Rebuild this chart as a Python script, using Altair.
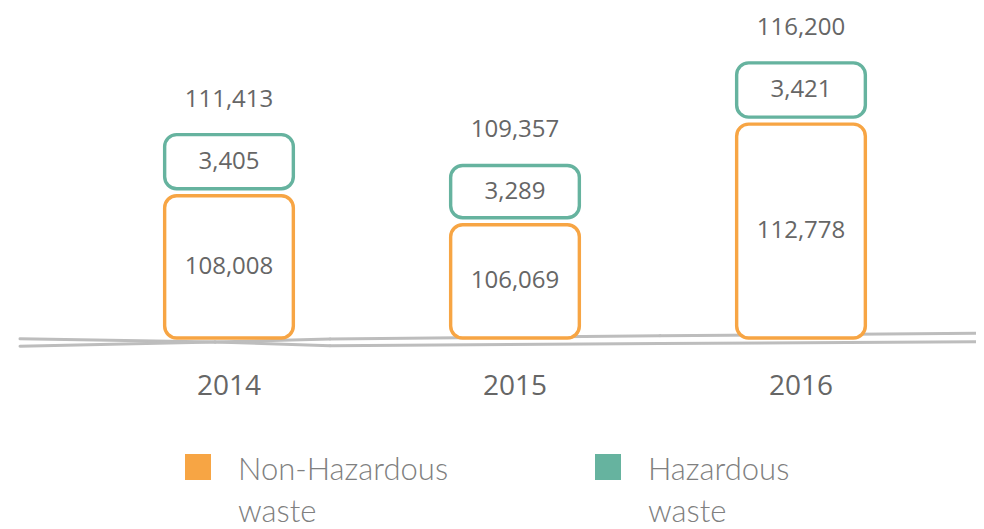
import altair as alt
import pandas as pd

# ---- data ----
years = ["2014", "2015", "2016"]
non_hazardous = [108008, 106069, 112778]
hazardous = [3405, 3289, 3421]
totals = [111413, 109357, 116200]
categories = ["Non-Hazardous waste", "Hazardous waste"]
colors = ["#F7A544", "#66B39F"]

# ---- layout constants (scale domain of the infographic) ----
BASE = 98521
TOP = 120254
W, H = 858, 326

rows = []
for y, nh, hz in zip(years, non_hazardous, hazardous):
    rows.append({"year": y, "category": categories[0], "value": nh,
                 "lo": BASE, "hi": nh, "mid": (BASE + nh) / 2})
    rows.append({"year": y, "category": categories[1], "value": hz,
                 "lo": nh, "hi": nh + hz, "mid": (nh + nh + hz) / 2})
df = pd.DataFrame(rows)
tot = pd.DataFrame({"year": years, "total": totals})

FONT = "Open Sans"
TXT = "#666666"

xenc = alt.X("year:N", sort=years,
             scale=alt.Scale(paddingInner=0.55, paddingOuter=0.275),
             axis=alt.Axis(title=None, domain=False, ticks=False, labelAngle=0,
                           labelFontSize=28, labelColor=TXT, labelFont=FONT,
                           labelPadding=34, grid=False))
yscale = alt.Scale(domain=[BASE, TOP], zero=False, nice=False)
cscale = alt.Scale(domain=categories, range=colors)

# decorative hand-drawn baseline (two crossing grey strokes)
def stroke_seg(x1, y1, x2, y2):
    return alt.Chart(pd.DataFrame([{"k": 1}])).mark_rule(
        color="#BDBDBD", strokeWidth=3, strokeCap="round"
    ).encode(x=alt.value(x1), y=alt.value(y1), x2=alt.value(x2), y2=alt.value(y2))

line_a = [(-66, 326.7), (129, 330), (244, 333.7), (574, 331.5), (898, 329.7)]
line_b = [(-66, 334.3), (129, 330), (244, 327), (574, 323.7), (898, 321.3)]
deco = []
for pts in (line_a, line_b):
    for (x1, y1), (x2, y2) in zip(pts[:-1], pts[1:]):
        deco.append(stroke_seg(x1, y1, x2, y2))

base = alt.Chart(df)

nh_bars = base.transform_filter(alt.datum.category == categories[0]).mark_bar(
    fill="white", strokeWidth=3.4, cornerRadius=12
).encode(
    x=xenc,
    y=alt.Y("hi:Q", scale=yscale, axis=None),
    y2="lo:Q",
    stroke=alt.Stroke("category:N", scale=cscale, legend=None),
)

hz_bars = base.transform_filter(alt.datum.category == categories[1]).mark_bar(
    fill="white", strokeWidth=3.4, cornerRadius=12, yOffset=-10, y2Offset=-7
).encode(
    x=xenc,
    y=alt.Y("hi:Q", scale=yscale, axis=None),
    y2="lo:Q",
    stroke=alt.Stroke("category:N", scale=cscale, legend=None),
)

nh_text = base.transform_filter(alt.datum.category == categories[0]).mark_text(
    font=FONT, fontSize=24, color=TXT, baseline="middle"
).encode(x=xenc, y=alt.Y("mid:Q", scale=yscale, axis=None),
         text=alt.Text("value:Q", format=","))

hz_text = base.transform_filter(alt.datum.category == categories[1]).mark_text(
    font=FONT, fontSize=24, color=TXT, baseline="middle", dy=-8.5
).encode(x=xenc, y=alt.Y("mid:Q", scale=yscale, axis=None),
         text=alt.Text("value:Q", format=","))

tot_text = alt.Chart(tot).mark_text(
    font=FONT, fontSize=24, color=TXT, baseline="middle", dy=-45
).encode(x=xenc, y=alt.Y("total:Q", scale=yscale, axis=None),
         text=alt.Text("total:Q", format=","))

# legend (two swatches with two-line labels)
legend_layers = []
for i, (cat, col) in enumerate(zip(categories, colors)):
    sx = [112, 522][i]
    tx = [152, 562][i]
    ldf = pd.DataFrame([{"label": cat.replace(" waste", "\nwaste")}])
    legend_layers.append(alt.Chart(ldf).mark_square(
        size=676, color=col, opacity=1
    ).encode(x=alt.value(sx), y=alt.value(455)))
    legend_layers.append(alt.Chart(ldf).mark_text(
        align="left", baseline="alphabetic", font="Lato", fontWeight=300,
        fontSize=31, color="#808080", lineBreak="\n", lineHeight=42.3
    ).encode(x=alt.value(tx), y=alt.value(468), text="label:N"))

chart = alt.layer(
    *deco, nh_bars, hz_bars, nh_text, hz_text, tot_text, *legend_layers
).properties(
    width=W, height=H,
    padding={"left": 78, "top": 4, "right": 32, "bottom": 191},
    autosize=alt.AutoSizeParams(type="none"),
    background="white",
).configure_view(stroke=None)

chart.save("out.html", embed_options={"renderer": "svg", "actions": False})
